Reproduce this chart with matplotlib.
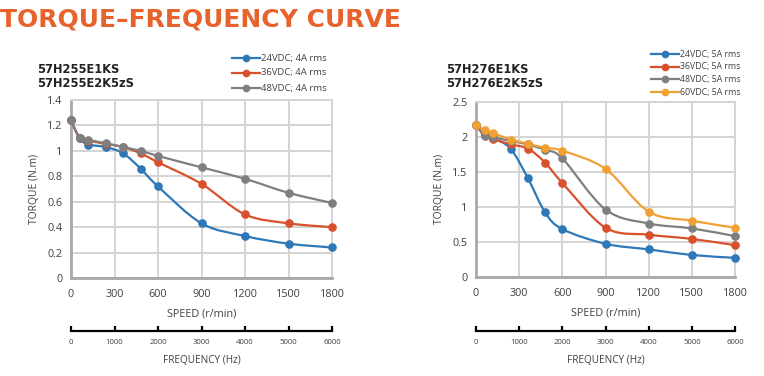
import numpy as np
import matplotlib
matplotlib.use("Agg")
import matplotlib.pyplot as plt
from matplotlib.path import Path
from matplotlib.patches import PathPatch
from matplotlib.lines import Line2D

# ---------------- data ----------------
speed = [0, 60, 120, 240, 360, 480, 600, 900, 1200, 1500, 1800]
speed_ticks = [0, 300, 600, 900, 1200, 1500, 1800]
freq_ticks = [0, 1000, 2000, 3000, 4000, 5000, 6000]

left_title = ["57H255E1KS", "57H255E2K5zS"]
left_labels = ["24VDC; 4A rms", "36VDC; 4A rms", "48VDC; 4A rms"]
left_24 = [1.24, 1.10, 1.05, 1.03, 0.98, 0.86, 0.72, 0.43, 0.33, 0.27, 0.24]
left_36 = [1.24, 1.10, 1.08, 1.055, 1.03, 0.98, 0.91, 0.74, 0.50, 0.43, 0.40]
left_48 = [1.24, 1.10, 1.085, 1.06, 1.03, 1.00, 0.96, 0.87, 0.78, 0.67, 0.59]
left_yticks = [0, 0.2, 0.4, 0.6, 0.8, 1.0, 1.2, 1.4]
left_yticklabels = ["0", "0.2", "0.4", "0.6", "0.8", "1", "1.2", "1.4"]

right_title = ["57H276E1KS", "57H276E2K5zS"]
right_labels = ["24VDC; 5A rms", "36VDC; 5A rms", "48VDC; 5A rms", "60VDC; 5A rms"]
right_24 = [2.17, 2.05, 1.98, 1.83, 1.41, 0.92, 0.68, 0.47, 0.39, 0.31, 0.27]
right_36 = [2.17, 2.03, 1.97, 1.89, 1.83, 1.63, 1.34, 0.70, 0.60, 0.54, 0.45]
right_48 = [2.17, 2.01, 1.99, 1.94, 1.89, 1.81, 1.69, 0.96, 0.76, 0.69, 0.58]
right_60 = [2.17, 2.09, 2.05, 1.96, 1.90, 1.84, 1.80, 1.54, 0.93, 0.80, 0.70]
right_yticks = [0, 0.5, 1.0, 1.5, 2.0, 2.5]
right_yticklabels = ["0", "0.5", "1", "1.5", "2", "2.5"]

BLUE = "#2f78b8"
RED = "#d9512c"
GRAY = "#7f7f7f"
ORANGE = "#f1a133"
TITLE_C = "#e8622c"
TXT = "#404040"

plt.rcParams["font.family"] = ["Open Sans", "DejaVu Sans"]

fig = plt.figure(figsize=(7.64, 3.76), dpi=100)
W, H = 764, 376


def rect(x0, y0, x1, y1):
    return [x0 / W, 1 - y1 / H, (x1 - x0) / W, (y1 - y0) / H]


def smooth_path(xs, ys):
    xs = np.asarray(xs, float)
    ys = np.asarray(ys, float)
    n = len(xs)
    verts = [(xs[0], ys[0])]
    codes = [Path.MOVETO]
    for i in range(n - 1):
        p0 = np.array([xs[max(i - 1, 0)], ys[max(i - 1, 0)]])
        p1 = np.array([xs[i], ys[i]])
        p2 = np.array([xs[i + 1], ys[i + 1]])
        p3 = np.array([xs[min(i + 2, n - 1)], ys[min(i + 2, n - 1)]])
        c1 = p1 + (p2 - p0) / 6.0
        c2 = p2 - (p3 - p1) / 6.0
        verts += [tuple(c1), tuple(c2), tuple(p2)]
        codes += [Path.CURVE4] * 3
    return Path(verts, codes)


def panel(box, fbox, ylim, yticks, yticklabels, series, colors, labels,
          names, title_xy, legend_xy, legend_fs, legend_step):
    ax = fig.add_axes(rect(*box))
    ax.set_xlim(0, 1800)
    ax.set_ylim(*ylim)
    ax.set_xticks(speed_ticks)
    ax.set_xticklabels([str(t) for t in speed_ticks])
    ax.set_yticks(yticks)
    ax.set_yticklabels(yticklabels)
    ax.tick_params(length=0, labelsize=7.8, colors=TXT)
    ax.tick_params(axis="x", pad=8)
    ax.tick_params(axis="y", pad=6)
    ax.grid(True, color="#d4d4d4", lw=1.4)
    ax.set_axisbelow(True)
    for s in ["top", "right"]:
        ax.spines[s].set_color("#d4d4d4")
        ax.spines[s].set_linewidth(1.4)
    for s in ["left", "bottom"]:
        ax.spines[s].set_color("#a8a8a8")
        ax.spines[s].set_linewidth(2.0)
    ax.set_xlabel("SPEED (r/min)", fontsize=7.8, color=TXT, labelpad=6)
    ax.set_ylabel("TORQUE (N.m)", fontsize=7.5, color=TXT, labelpad=5)
    for ys, c in zip(series, colors):
        ax.add_patch(PathPatch(smooth_path(speed, ys), fill=False, ec=c, lw=1.6,
                               zorder=3, clip_on=False))
        ax.plot(speed, ys, ls="none", marker="o", ms=5.2, color=c, zorder=4,
                clip_on=False)
    # model names
    fig.text(title_xy[0] / W, 1 - title_xy[1] / H, "\n".join(names),
             fontsize=8.3, fontweight="bold", color="#222222",
             family=["DejaVu Sans"], va="top", ha="left", linespacing=1.1)
    # legend
    lx, ly = legend_xy
    for i, (c, lab) in enumerate(zip(colors, labels)):
        yy = 1 - (ly + i * legend_step) / H
        fig.add_artist(Line2D([lx / W, (lx + 28) / W], [yy, yy], color=c, lw=1.6,
                              transform=fig.transFigure))
        fig.add_artist(Line2D([(lx + 14) / W], [yy], color=c, marker="o", ms=4.5,
                              transform=fig.transFigure))
        fig.text((lx + 29) / W, yy, lab, fontsize=legend_fs, color=TXT,
                 va="center", ha="left")
    # frequency axis
    fx = fig.add_axes(rect(*fbox))
    fx.set_xlim(0, 6000)
    fx.set_ylim(0, 1)
    fx.set_yticks([])
    for s in ["top", "right", "left"]:
        fx.spines[s].set_visible(False)
    fx.spines["bottom"].set_color("black")
    fx.spines["bottom"].set_linewidth(1.6)
    fx.set_xticks(freq_ticks)
    fx.set_xticklabels([str(t) for t in freq_ticks])
    fx.tick_params(axis="x", direction="in", length=3.5, width=1.6, color="black",
                   labelsize=5.6, labelcolor=TXT, pad=6)
    fx.set_xlabel("FREQUENCY (Hz)", fontsize=7.2, color=TXT, labelpad=6)
    fx.patch.set_alpha(0)
    return ax


panel((71, 100, 332, 278), (71, 320, 332, 331), (0, 1.4), left_yticks,
      left_yticklabels, [left_24, left_36, left_48], [BLUE, RED, GRAY],
      left_labels, left_title, (37, 63), (232, 58), 6.8, 15)
panel((476, 101.7, 735, 276.7), (476, 320, 735, 331), (0, 2.5), right_yticks,
      right_yticklabels, [right_24, right_36, right_48, right_60],
      [BLUE, RED, GRAY, ORANGE], right_labels, right_title, (446, 63),
      (651, 54), 6.3, 12.7)

fig.text(0.0, 1 - 7 / H, "TORQUE\u2013FREQUENCY CURVE", fontsize=18,
         fontweight="bold", color=TITLE_C, va="top", ha="left",
         family=["DejaVu Sans"])

fig.savefig("out.png", dpi=100)
